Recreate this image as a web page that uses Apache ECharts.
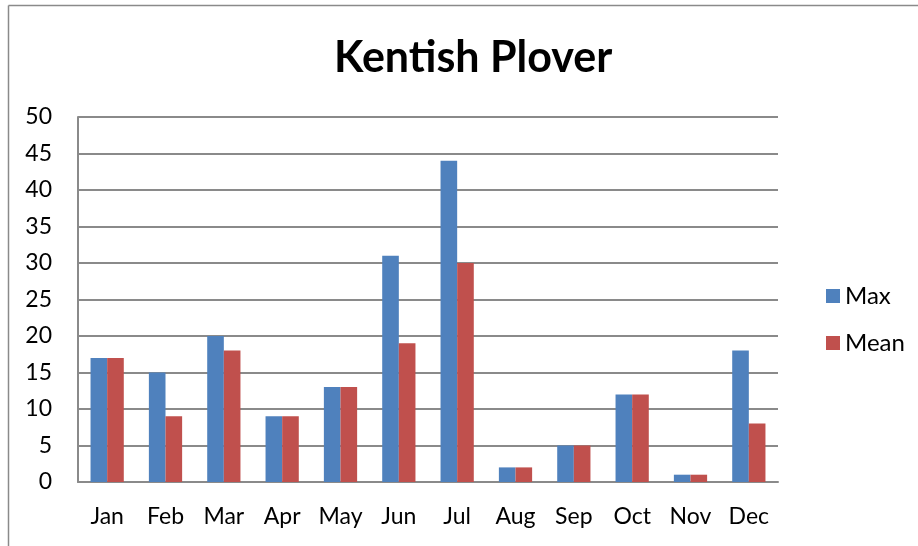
<!DOCTYPE html>
<html>
<head>
<meta charset="utf-8">
<script src="https://cdn.jsdelivr.net/npm/echarts@6/dist/echarts.min.js"></script>
<style>html,body{margin:0;padding:0;background:#fff;}#c{width:918px;height:546px;}</style>
</head>
<body>
<div id="c"></div>
<script>
const categories = ['Jan','Feb','Mar','Apr','May','Jun','Jul','Aug','Sep','Oct','Nov','Dec'];
const maxValues = [17,15,20,9,13,31,44,2,5,12,1,18];
const meanValues = [17,9,18,9,13,19,30,2,5,12,1,8];
const chart = echarts.init(document.getElementById('c'));
const font = 'Lato, "Open Sans", sans-serif';
chart.setOption({
  animation: false,
  title: {
    text: 'Kentish Plover', left: 329, top: 32,
    textStyle: {fontFamily: font, fontSize: 43, fontWeight: 'bold', color: '#000'}
  },
  graphic: [
    {type: 'line', shape: {x1: 8.5, y1: 5.5, x2: 918, y2: 5.5}, style: {stroke: '#8a8a8a', lineWidth: 1.5}},
    {type: 'line', shape: {x1: 8.5, y1: 5.5, x2: 8.5, y2: 546}, style: {stroke: '#8a8a8a', lineWidth: 1.5}}
  ],
  legend: {
    orient: 'vertical', left: 821, top: 279, itemGap: 23, itemWidth: 14, itemHeight: 14, icon: 'rect',
    textStyle: {fontFamily: font, fontSize: 24, color: '#000'},
    data: ['Max','Mean']
  },
  grid: {left: 78, right: 140, top: 117, bottom: 64},
  xAxis: {
    type: 'category', data: categories,
    axisLine: {lineStyle: {color: '#8a8a8a', width: 2}},
    axisTick: {show: false},
    axisLabel: {fontFamily: font, fontSize: 23, color: '#000', margin: 23}
  },
  yAxis: {
    type: 'value', min: 0, max: 50, interval: 5,
    axisLine: {show: true, lineStyle: {color: '#8a8a8a', width: 2}},
    axisTick: {show: false},
    splitLine: {lineStyle: {color: '#8a8a8a', width: 2}},
    axisLabel: {fontFamily: font, fontSize: 23, color: '#000', margin: 26}
  },
  series: [
    {name: 'Max', type: 'bar', data: maxValues, barGap: '0%', barCategoryGap: '43%', itemStyle: {color: '#4F81BD'}},
    {name: 'Mean', type: 'bar', data: meanValues, itemStyle: {color: '#C0504D'}}
  ]
});
</script>
</body>
</html>
